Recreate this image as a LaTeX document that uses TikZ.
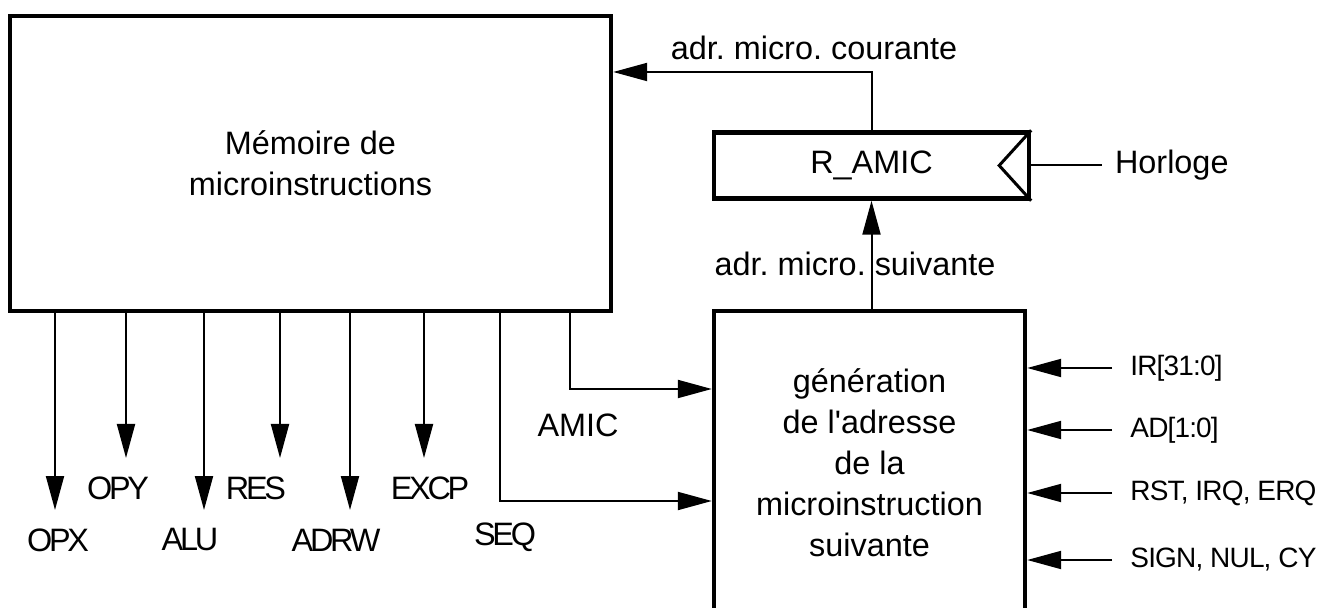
\documentclass[tikz,border=0pt]{standalone}
\usepackage{fontspec}
\setmainfont{Liberation Sans}
\newfontfamily\tightfont{Liberation Sans}[LetterSpace=-10]
\newfontfamily\sigfont{Liberation Sans}[LetterSpace=-3]
\usetikzlibrary{arrows.meta}
\begin{document}
\frenchspacing
\begin{tikzpicture}[x=0.5pt,y=-0.5pt,
  box/.style={draw,line width=2.2pt},
  sig/.style={line width=1pt,-{Triangle[length=17pt,width=9pt]}},
  wire/.style={line width=1pt},
  txt/.style={font=\fontsize{16.2}{20.5}\selectfont,align=center},
  lbl/.style={font=\tightfont\fontsize{16.2}{20}\selectfont,inner sep=0pt},
  inp/.style={font=\sigfont\fontsize{14}{17}\selectfont,anchor=west,inner sep=0pt}]
\useasboundingbox (0,0) rectangle (1326,608);
% blocs
\node[box,txt,minimum width=300.5pt,minimum height=147.5pt] (mem) at (310.5,163.5) {Mémoire de\\microinstructions};
\node[box,txt,minimum width=157.5pt,minimum height=33pt] (ramic) at (871.5,165.5) {R\_AMIC};
\node[txt,minimum width=155.5pt,minimum height=148.5pt,outer sep=0pt] (gen) at (869.5,459.5) {};
\node[txt] (gentxt) at (869.5,463) {génération\\de l\textquotesingle adresse\\de la\\microinstruction\\suivante};
\draw[box] (gen.south west) |- (gen.north) -| (gen.south east);
% horloge
\draw[line width=1.5pt] (ramic.north east) -- ([xshift=-16pt]ramic.east) -- (ramic.south east);
\node[txt,anchor=west] (clk) at (1108,165.5) {Horloge};
\draw[wire] (ramic.east) -- ([xshift=-3pt]clk.west);
% adresses
\coordinate (cour) at (871.5,72);
\node[txt] (courlbl) at (814,48) {adr. micro. courante};
\draw[sig] (ramic.north) |- (mem.east |- cour);
\node[txt] (suivlbl) at (855,264) {adr. micro. suivante};
\draw[sig] (gen.north -| ramic.south) -- (ramic.south);
% AMIC et SEQ
\coordinate (amicin) at (570,389);
\draw[sig,shorten >=1.1pt] (mem.south -| amicin) |- (gen.west |- amicin);
\node[txt,inner sep=0pt] (amic) at (578,425) {AMIC};
\coordinate (seqin) at (500,501);
\draw[sig,shorten >=1.1pt] (mem.south -| seqin) |- (gen.west |- seqin);
\node[lbl] (seq) at (505,537) {SEQ};
% sorties
\coordinate (opxend) at (55,510);
\draw[sig] (mem.south -| opxend) -- (opxend);
\node[lbl] (opx) at (58,540) {OPX};
\coordinate (opyend) at (126,458);
\draw[sig] (mem.south -| opyend) -- (opyend);
\node[lbl] (opy) at (118,488) {OPY};
\coordinate (aluend) at (204,510);
\draw[sig] (mem.south -| aluend) -- (aluend);
\node[lbl] (alu) at (190,540) {ALU};
\coordinate (resend) at (280,458);
\draw[sig] (mem.south -| resend) -- (resend);
\node[lbl] (res) at (256,488) {RES};
\coordinate (adrwend) at (350,510);
\draw[sig] (mem.south -| adrwend) -- (adrwend);
\node[lbl] (adrw) at (336,540) {ADRW};
\coordinate (excpend) at (424,458);
\draw[sig] (mem.south -| excpend) -- (excpend);
\node[lbl] (excp) at (430,488) {EXCP};
% entrees
\node[inp] (ir) at (1130,368) {IR[31:0]};
\draw[sig,shorten >=1.1pt] ([xshift=-9pt]ir.west) -- (gen.east |- ir.west);
\node[inp] (ad) at (1130,430) {AD[1:0]};
\draw[sig,shorten >=1.1pt] ([xshift=-9pt]ad.west) -- (gen.east |- ad.west);
\node[inp] (rst) at (1130,493) {RST, IRQ, ERQ};
\draw[sig,shorten >=1.1pt] ([xshift=-9pt]rst.west) -- (gen.east |- rst.west);
\node[inp] (sign) at (1130,560) {SIGN, NUL, CY};
\draw[sig,shorten >=1.1pt] ([xshift=-9pt]sign.west) -- (gen.east |- sign.west);
\end{tikzpicture}
\end{document}
